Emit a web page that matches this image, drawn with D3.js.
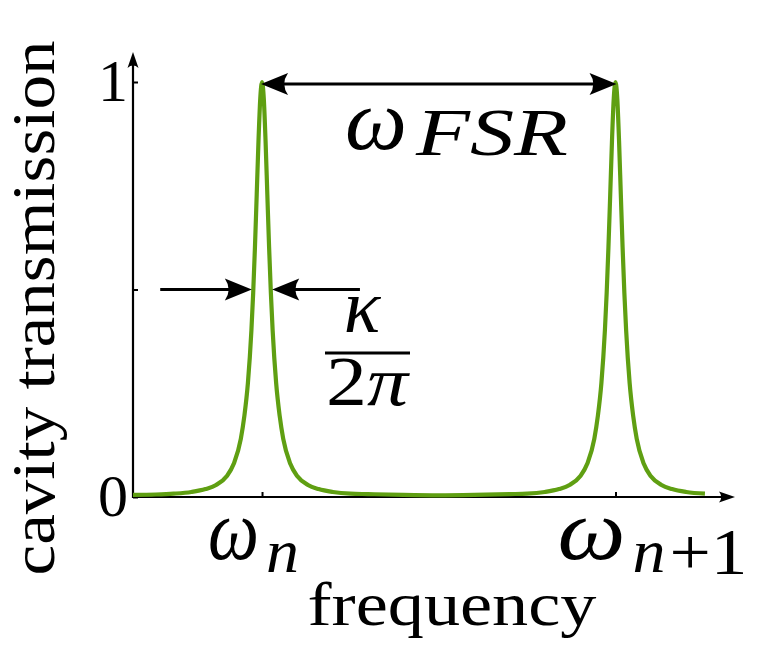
<!DOCTYPE html>
<html><head><meta charset="utf-8">
<script src="https://cdn.jsdelivr.net/npm/d3@7"></script>
<style>body{margin:0;background:#fff}svg{display:block}</style>
</head><body>
<svg id="c" width="757" height="653"></svg>
<script>
// frequency in units of the free spectral range (omega_n = 0, omega_{n+1} = 1)
const freq = [-0.365,-0.3,-0.25,-0.2,-0.16,-0.13,-0.1,-0.08,-0.06,-0.05,-0.04,-0.03,-0.025,-0.02,-0.015,-0.01,-0.005,0,
  0.005,0.01,0.015,0.02,0.025,0.03,0.04,0.05,0.06,0.08,0.1,0.13,0.16,0.2,0.25,0.3,0.4,0.5,0.6,0.7,0.75,0.8,0.84,0.87,0.9,0.92,0.94,0.95,0.96,0.97,0.975,0.98,0.985,0.99,0.995,1,
  1.005,1.01,1.015,1.02,1.025,1.03,1.04,1.05,1.06,1.08,1.1,1.13,1.16,1.2,1.253];
const transmission = [0.005,0.006,0.008,0.012,0.019,0.029,0.05,0.08,0.14,0.195,0.274,0.402,0.492,0.602,0.729,0.858,0.96,1,
  0.96,0.858,0.729,0.602,0.492,0.402,0.274,0.195,0.14,0.08,0.05,0.029,0.019,0.012,0.008,0.007,0.005,0.004,0.005,0.007,0.008,0.012,0.019,0.029,0.05,0.08,0.14,0.195,0.274,0.402,0.492,0.602,0.729,0.858,0.96,1,
  0.96,0.858,0.729,0.602,0.492,0.402,0.274,0.195,0.14,0.08,0.05,0.029,0.019,0.012,0.008];
const yTickValues = [0, 0.5, 1];
const yTickLabels = ["0", "", "1"];
const xTickValues = [0, 1];
const xTickSubs = ["n", "n"];
const xTickExtra = ["", "+1"];
const xLabel = "frequency";
const yLabel = "cavity transmission";
const halfWidth = 0.0246; // kappa/(4 pi) in FSR units

const svg = d3.select("#c");
svg.append("rect").attr("width",757).attr("height",653).attr("fill","#fff");
const x = d3.scaleLinear().domain([-0.365, 1.338]).range([133, 735]);
const y = d3.scaleLinear().domain([0, 1]).range([497, 82]);
const serif = "'Liberation Serif','DejaVu Serif',serif";
const green = "#5f9f12";

function head(tx, ty, dir, L=27, H=11) {
  const s = dir;
  const p = d3.path();
  p.moveTo(tx, ty);
  p.lineTo(tx - s*L, ty - H);
  p.quadraticCurveTo(tx - s*L*0.72, ty, tx - s*L, ty + H);
  p.closePath();
  svg.append("path").attr("d", p.toString()).attr("fill","#000");
}
function headV(tx, ty, L=16, H=5.5) {
  const p = d3.path();
  p.moveTo(tx, ty);
  p.lineTo(tx - H, ty + L);
  p.quadraticCurveTo(tx, ty + L*0.7, tx + H, ty + L);
  p.closePath();
  svg.append("path").attr("d", p.toString()).attr("fill","#000");
}
function txt(xp, yp, s, size, len, italic=true) {
  const t = svg.append("text").attr("x",xp).attr("y",yp).attr("font-family",serif)
    .attr("font-size",size).attr("font-style", italic ? "italic" : "normal").text(s);
  if (len) t.attr("textLength",len).attr("lengthAdjust","spacingAndGlyphs");
  return t;
}

// axes
const yAxis = d3.axisLeft(y).tickValues(yTickValues).tickSize(-5).tickFormat("");
const gy = svg.append("g").attr("transform", `translate(${x(-0.365)},0)`).call(yAxis);
gy.select(".domain").remove();
gy.selectAll(".tick line").attr("stroke","#000").attr("stroke-width",2);
svg.append("line").attr("x1",x(-0.365)).attr("x2",x(-0.365)).attr("y1",y(0)+1).attr("y2",60)
  .attr("stroke","#000").attr("stroke-width",2.2);
headV(x(-0.365), 52);

const xAxis = d3.axisBottom(x).tickValues(xTickValues).tickSize(-5).tickFormat("");
const gx = svg.append("g").attr("transform", `translate(0,${y(0)})`).call(xAxis);
gx.select(".domain").remove();
gx.selectAll(".tick line").attr("stroke","#000").attr("stroke-width",2);
svg.append("line").attr("x1",x(-0.365)-1).attr("x2",725).attr("y1",y(0)).attr("y2",y(0))
  .attr("stroke","#000").attr("stroke-width",2.2);
head(735, y(0), 1, 16, 5.5);

// curve
const data = freq.map((f,i)=>({f, t: transmission[i]}));
svg.append("path").datum(data)
  .attr("d", d3.line().x(d=>x(d.f)).y(d=>y(d.t)).curve(d3.curveMonotoneX))
  .attr("fill","none").attr("stroke",green).attr("stroke-width",4.2).attr("stroke-linejoin","round");

// y tick labels
yTickValues.forEach((v,i)=>{
  if (!yTickLabels[i]) return;
  svg.append("text").attr("x",128).attr("y",y(v)+19).attr("text-anchor","end")
    .attr("font-family",serif).attr("font-size",60).text(yTickLabels[i]);
});

// x tick labels (math): omega_n, omega_{n+1}
xTickValues.forEach((v,i)=>{
  const cx = x(v);
  const wl = i === 0 ? 51 : 68;
  const x0 = i === 0 ? cx - 54 : cx - 58;
  txt(x0, 559, "ω", 86, wl);
  txt(x0 + wl + 7, 572, xTickSubs[i], 62, 33);
  if (xTickExtra[i]) txt(x0 + wl + 44, 574, xTickExtra[i], 66, 78, false);
});

// FSR arrow & label
svg.append("line").attr("x1",x(0)+20).attr("x2",x(1)-20).attr("y1",y(1)+2).attr("y2",y(1)+2)
  .attr("stroke","#000").attr("stroke-width",3.2);
head(x(0)-1, y(1)+2, -1);
head(x(1)+1, y(1)+2, 1);
txt(345, 149, "ω", 86, 62);
txt(416, 155, "FSR", 68, 152);

// kappa arrows
const yh = y(0.5);
svg.append("line").attr("x1",x(-0.288)).attr("x2",x(-halfWidth)-20).attr("y1",yh).attr("y2",yh).attr("stroke","#000").attr("stroke-width",3.2);
head(x(-halfWidth)-1.5, yh, 1);
svg.append("line").attr("x1",x(0.277)).attr("x2",x(halfWidth)+20).attr("y1",yh).attr("y2",yh).attr("stroke","#000").attr("stroke-width",3.2);
head(x(halfWidth)+1.5, yh, -1);

// kappa / 2pi
svg.append("text").attr("x",362).attr("y",332).attr("text-anchor","middle").attr("font-family",serif).attr("font-style","italic").attr("font-size",76).text("κ");
svg.append("line").attr("x1",325).attr("x2",410).attr("y1",353).attr("y2",353).attr("stroke","#000").attr("stroke-width",3);
{
  const t = svg.append("text").attr("x",326).attr("y",405).attr("font-family",serif).attr("font-size",70)
    .attr("textLength",82).attr("lengthAdjust","spacingAndGlyphs");
  t.append("tspan").text("2");
  t.append("tspan").attr("font-style","italic").text("π");
}

// axis titles
svg.append("text").attr("x",452).attr("y",625).attr("text-anchor","middle").attr("font-family",serif)
  .attr("font-size",62).attr("textLength",289).attr("lengthAdjust","spacingAndGlyphs").text(xLabel);
svg.append("text").attr("transform","translate(54,308) rotate(-90)").attr("text-anchor","middle").attr("font-family",serif)
  .attr("font-size",62).attr("textLength",535).attr("lengthAdjust","spacingAndGlyphs").text(yLabel);
</script>
</body></html>
